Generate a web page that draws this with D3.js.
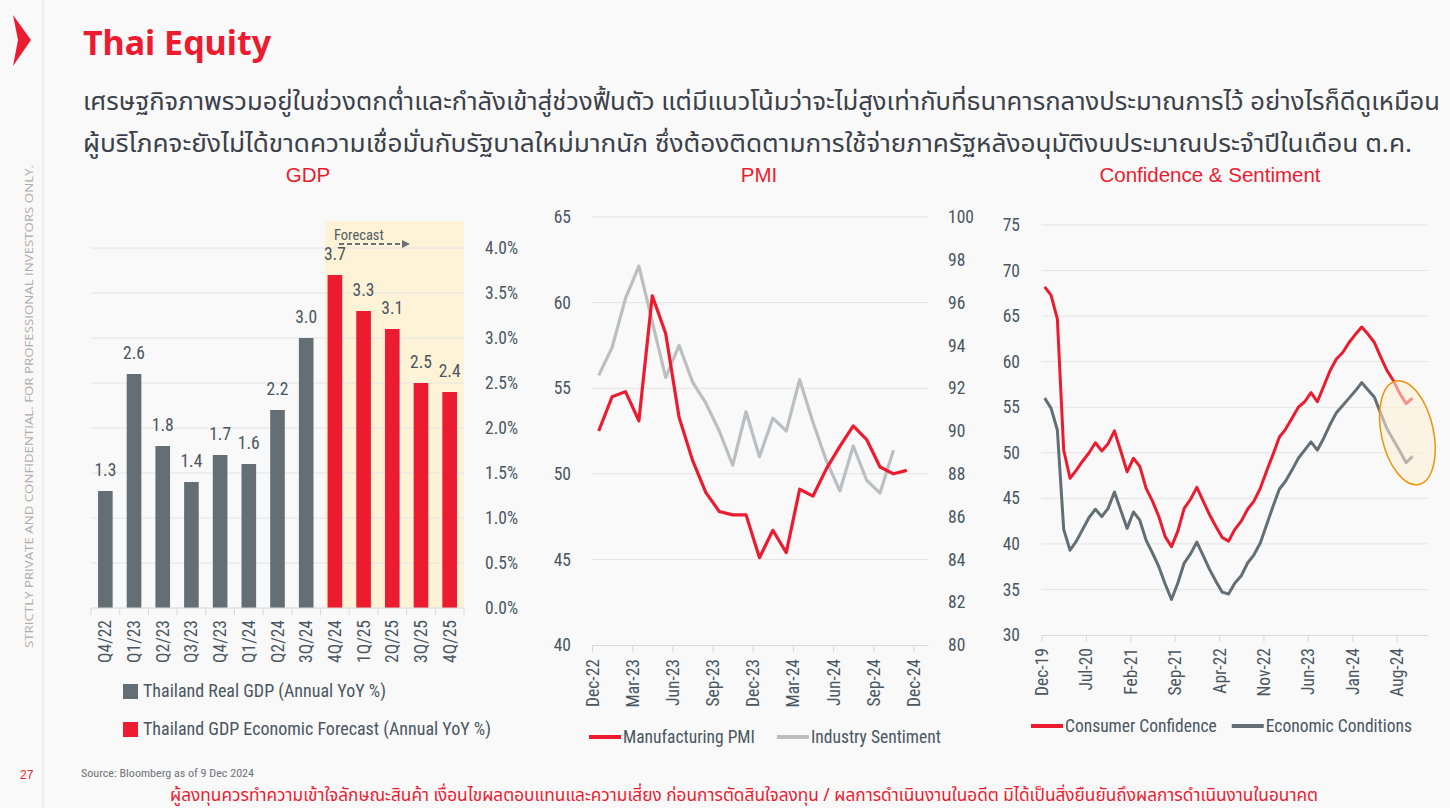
<!DOCTYPE html>
<html>
<head>
<meta charset="utf-8">
<script src="https://cdn.jsdelivr.net/npm/d3@7"></script>
<style>
  body { margin: 0; background: #f9f9f9; }
  svg { display: block; }
</style>
</head>
<body>
<svg id="chart" width="1450" height="808"></svg>
<script>
// ---- data ----
const gdpQuarters = ["Q4/22", "Q1/23", "Q2/23", "Q3/23", "Q4/23", "Q1/24", "Q2/24", "3Q/24", "4Q/24", "1Q/25", "2Q/25", "3Q/25", "4Q/25"];
const gdpValues = [1.3, 2.6, 1.8, 1.4, 1.7, 1.6, 2.2, 3.0, 3.7, 3.3, 3.1, 2.5, 2.4];
const forecastFrom = "4Q/24";

// monthly, first value = Dec-22
const pmiValues = [52.5, 54.5, 54.8, 53.1, 60.4, 58.2, 53.3, 50.8, 48.9, 47.8, 47.6, 47.6,
                   45.1, 46.7, 45.4, 49.1, 48.7, 50.3, 51.6, 52.8, 52.0, 50.4, 50.0, 50.2];
const sentimentValues = [92.6, 93.9, 96.2, 97.7, 95.1, 92.5, 94.0, 92.3, 91.3, 90.0, 88.4, 90.9,
                         88.8, 90.6, 90.0, 92.4, 90.4, 88.6, 87.2, 89.3, 87.7, 87.1, 89.1];
const pmiTicks = ["Dec-22", "Mar-23", "Jun-23", "Sep-23", "Dec-23", "Mar-24", "Jun-24", "Sep-24", "Dec-24"];

// monthly, first value = Dec-19
const confValues = [68.2, 67.3, 64.7, 50.3, 47.2, 48.1, 49.1, 50.0, 51.1, 50.2, 51.0, 52.4,
                    50.2, 47.9, 49.4, 48.5, 46.1, 44.7, 43.0, 40.8, 39.7, 41.4, 43.9, 44.9,
                    46.2, 44.7, 43.2, 41.9, 40.7, 40.3, 41.6, 42.5, 43.8, 44.7, 46.1, 48.0,
                    49.8, 51.7, 52.6, 53.8, 55.0, 55.6, 56.6, 55.6, 57.3, 59.0, 60.3, 61.0,
                    62.1, 63.0, 63.8, 63.0, 62.1, 60.5, 59.0, 57.9, 56.5, 55.4, 56.0];
const econValues = [56.0, 54.9, 52.5, 41.6, 39.3, 40.3, 41.6, 42.9, 43.8, 43.0, 43.9, 45.7,
                    43.7, 41.7, 43.5, 42.6, 40.4, 39.0, 37.5, 35.6, 33.9, 35.7, 37.9, 38.9,
                    40.2, 38.7, 37.2, 35.9, 34.7, 34.5, 35.7, 36.5, 37.9, 38.8, 40.1, 42.1,
                    44.1, 46.0, 46.9, 48.1, 49.4, 50.3, 51.2, 50.3, 51.6, 53.1, 54.4, 55.2,
                    56.0, 56.8, 57.7, 56.9, 56.1, 54.3, 52.6, 51.4, 50.2, 48.9, 49.6];
const confTicks = ["Dec-19", "Jul-20", "Feb-21", "Sep-21", "Apr-22", "Nov-22", "Jun-23", "Jan-24", "Aug-24"];

const RED = "#ed1b2f";
const SLATE = "#646f75";
const LIGHT = "#bcbebf";
const TXT = "#4b5661";
const GRID = "#e4e4e4";
const NARROW = "'Liberation Sans Narrow', 'Arial Narrow', 'Roboto Condensed', sans-serif";
const SANS = "'Liberation Sans', Arial, sans-serif";
const THAI = "'Noto Sans Thai', 'Noto Sans Thai UI', 'Noto Sans', sans-serif";
const FS = 17.5; // tick / legend size

const svg = d3.select("#chart");

// squeeze a text element to a given width
function fitWidth(sel, w) {
  const len = sel.node().getComputedTextLength();
  if (Math.abs(len - w) > 2) sel.attr("textLength", w).attr("lengthAdjust", "spacingAndGlyphs");
}

// ---- page frame ----
svg.append("rect").attr("width", 1450).attr("height", 808).attr("fill", "#f9f9f9");
svg.append("line").attr("x1", 43).attr("x2", 43).attr("y1", 0).attr("y2", 808)
  .attr("stroke", "#e2e2e2");
svg.append("polygon").attr("points", "13,15 31,40 13,66 18,40").attr("fill", RED);

svg.append("text").attr("x", 83).attr("y", 55)
  .attr("font-family", "'Noto Sans', 'Open Sans', sans-serif").attr("font-weight", 700)
  .attr("font-size", 34).attr("fill", RED).text("Thai Equity")
  .call(fitWidth, 187);

const intro = [
  "เศรษฐกิจภาพรวมอยู่ในช่วงตกต่ำและกำลังเข้าสู่ช่วงฟื้นตัว แต่มีแนวโน้มว่าจะไม่สูงเท่ากับที่ธนาคารกลางประมาณการไว้ อย่างไรก็ดีดูเหมือน",
  "ผู้บริโภคจะยังไม่ได้ขาดความเชื่อมั่นกับรัฐบาลใหม่มากนัก ซึ่งต้องติดตามการใช้จ่ายภาครัฐหลังอนุมัติงบประมาณประจำปีในเดือน ต.ค."
];
const introWidths = [1357, 1329];
intro.forEach((t, i) => {
  svg.append("text").attr("x", 83).attr("y", 110 + i * 42)
    .attr("font-family", THAI).attr("font-size", 24).attr("fill", "#3b4049")
    .text(t).call(fitWidth, introWidths[i]);
});

svg.append("text")
  .attr("transform", "translate(33,648) rotate(-90)")
  .attr("font-family", "'Open Sans', sans-serif").attr("font-size", 11.5)
  .attr("fill", "#adadad").text("STRICTLY PRIVATE AND CONFIDENTIAL. FOR PROFESSIONAL INVESTORS ONLY.")
  .call(fitWidth, 483);

svg.append("text").attr("x", 20).attr("y", 779).attr("font-family", SANS)
  .attr("font-size", 12).attr("fill", RED).text("27");
svg.append("text").attr("x", 81).attr("y", 777).attr("font-family", NARROW)
  .attr("font-size", 11).attr("fill", "#6f7378").text("Source: Bloomberg as of 9 Dec 2024")
  .call(fitWidth, 173);
svg.append("text").attr("x", 170).attr("y", 801).attr("font-family", THAI)
  .attr("font-size", 17.5).attr("fill", RED)
  .text("ผู้ลงทุนควรทำความเข้าใจลักษณะสินค้า เงื่อนไขผลตอบแทนและความเสี่ยง ก่อนการตัดสินใจลงทุน / ผลการดำเนินงานในอดีต มิได้เป็นสิ่งยืนยันถึงผลการดำเนินงานในอนาคต")
  .call(fitWidth, 1148);

function title(x, t) {
  svg.append("text").attr("x", x).attr("y", 182).attr("text-anchor", "middle")
    .attr("font-family", SANS).attr("font-size", 20.5)
    .attr("fill", RED).text(t);
}
title(308, "GDP");
title(759, "PMI");
title(1210, "Confidence & Sentiment");

// ---- GDP bars ----
const gx = d3.scaleBand().domain(gdpQuarters).range([91, 464])
  .paddingInner(0.49).paddingOuter(0.245);
const gy = d3.scaleLinear().domain([0, 4.3]).range([608, 221]);
const gdp = svg.append("g");

gdp.append("rect")
  .attr("x", gx(forecastFrom) - 2.5).attr("y", gy(4.3))
  .attr("width", gx.range()[1] - gx(forecastFrom) + 2.5).attr("height", gy(0) - gy(4.3))
  .attr("fill", "#fff3d7");

gdp.selectAll(".grid").data(d3.range(0.5, 4.01, 0.5)).join("line")
  .attr("x1", 91).attr("x2", 464).attr("y1", d => gy(d)).attr("y2", d => gy(d))
  .attr("stroke", GRID);

gdp.selectAll(".rl").data(d3.range(0, 4.01, 0.5)).join("text")
  .attr("x", 485).attr("y", d => gy(d)).attr("dy", "0.35em")
  .attr("font-family", NARROW).attr("font-size", FS).attr("fill", TXT)
  .text(d => d3.format(".1f")(d) + "%");

const isFc = q => gdpQuarters.indexOf(q) >= gdpQuarters.indexOf(forecastFrom);
gdp.selectAll(".bar").data(gdpQuarters).join("rect")
  .attr("x", d => gx(d)).attr("width", gx.bandwidth())
  .attr("y", (d, i) => gy(gdpValues[i])).attr("height", (d, i) => gy(0) - gy(gdpValues[i]))
  .attr("fill", d => isFc(d) ? RED : SLATE);

gdp.selectAll(".val").data(gdpQuarters).join("text")
  .attr("x", d => gx(d) + gx.bandwidth() / 2).attr("y", (d, i) => gy(gdpValues[i]) - 15)
  .attr("text-anchor", "middle").attr("font-family", NARROW).attr("font-size", FS)
  .attr("fill", TXT).text((d, i) => d3.format(".1f")(gdpValues[i]));

gdp.append("line").attr("x1", 91).attr("x2", 464).attr("y1", gy(0)).attr("y2", gy(0))
  .attr("stroke", "#d9d9d9");
gdp.selectAll(".tk").data(d3.range(gdpQuarters.length + 1)).join("line")
  .attr("x1", d => 91 + d * gx.step()).attr("x2", d => 91 + d * gx.step())
  .attr("y1", gy(0)).attr("y2", gy(0) + 7).attr("stroke", "#d9d9d9");
gdp.selectAll(".xl").data(gdpQuarters).join("text")
  .attr("transform", d => `translate(${gx(d) + gx.bandwidth() / 2 + 6},620) rotate(-90)`)
  .attr("text-anchor", "end").attr("font-family", NARROW).attr("font-size", FS)
  .attr("fill", TXT).text(d => d);

// forecast marker
gdp.append("text").attr("x", 334).attr("y", 240).attr("font-family", NARROW)
  .attr("font-size", 14.5).attr("fill", "#555c63").text("Forecast");
gdp.append("line").attr("x1", 339).attr("x2", 403).attr("y1", 244).attr("y2", 244)
  .attr("stroke", "#6b7378").attr("stroke-width", 2).attr("stroke-dasharray", "5,3");
gdp.append("polygon").attr("points", "402,240 410,244 402,248").attr("fill", "#6b7378");

const gdpLegend = [["Thailand Real GDP (Annual YoY %)", SLATE], ["Thailand GDP Economic Forecast (Annual YoY %)", RED]];
gdpLegend.forEach(([t, c], i) => {
  const y = 691 + i * 38;
  gdp.append("rect").attr("x", 123).attr("y", y - 7).attr("width", 15).attr("height", 15).attr("fill", c);
  gdp.append("text").attr("x", 143).attr("y", y).attr("dy", "0.35em")
    .attr("font-family", NARROW).attr("font-size", 18).attr("fill", TXT).text(t);
});

// ---- line chart helper ----
function timeAxis(g, x, yBase, ticks, step, labelTop) {
  const axis = d3.axisBottom(x).tickValues(ticks.map((d, i) => i * step))
    .tickFormat((d, i) => ticks[i]).tickSize(7).tickSizeOuter(0);
  const a = g.append("g").attr("transform", `translate(0,${yBase})`).call(axis);
  a.select(".domain").attr("stroke", "#d9d9d9");
  a.selectAll(".tick line").attr("stroke", "#d9d9d9");
  a.selectAll(".tick text")
    .attr("transform", `translate(6,${labelTop - yBase}) rotate(-90)`)
    .attr("x", 0).attr("y", 0).attr("dy", 0)
    .attr("text-anchor", "end").attr("font-family", NARROW).attr("font-size", FS).attr("fill", TXT);
}

// ---- PMI ----
const px = d3.scaleLinear().domain([0, 25.08]).range([592, 928]);
const pyL = d3.scaleLinear().domain([40, 65]).range([645, 217]);
const pyR = d3.scaleLinear().domain([80, 100]).range([645, 217]);
const pmi = svg.append("g");

pmi.selectAll(".grid").data(d3.range(45, 66, 5)).join("line")
  .attr("x1", 592).attr("x2", 928).attr("y1", d => pyL(d)).attr("y2", d => pyL(d))
  .attr("stroke", GRID);
pmi.selectAll(".ll").data(d3.range(40, 66, 5)).join("text")
  .attr("x", 571).attr("y", d => pyL(d)).attr("dy", "0.35em").attr("text-anchor", "end")
  .attr("font-family", NARROW).attr("font-size", FS).attr("fill", TXT).text(d => d);
pmi.selectAll(".rl").data(d3.range(80, 101, 2)).join("text")
  .attr("x", 948).attr("y", d => pyR(d)).attr("dy", "0.35em")
  .attr("font-family", NARROW).attr("font-size", FS).attr("fill", TXT).text(d => d);
timeAxis(pmi, px, 645, pmiTicks, 3, 659);

const pmiLine = (ys) => d3.line().x((d, i) => px(i + 0.5)).y(d => ys(d));
pmi.append("path").datum(sentimentValues).attr("d", pmiLine(pyR))
  .attr("fill", "none").attr("stroke", LIGHT).attr("stroke-width", 3.2).attr("stroke-linejoin", "round");
pmi.append("path").datum(pmiValues).attr("d", pmiLine(pyL))
  .attr("fill", "none").attr("stroke", RED).attr("stroke-width", 3.2).attr("stroke-linejoin", "round");

// ---- Confidence ----
const cx = d3.scaleLinear().domain([0, 60.9]).range([1041.5, 1427.7]);
const cy = d3.scaleLinear().domain([30, 75]).range([635, 225]);
const conf = svg.append("g");

conf.selectAll(".grid").data(d3.range(35, 76, 5)).join("line")
  .attr("x1", 1041.5).attr("x2", 1427.7).attr("y1", d => cy(d)).attr("y2", d => cy(d))
  .attr("stroke", GRID);
conf.selectAll(".ll").data(d3.range(30, 76, 5)).join("text")
  .attr("x", 1020).attr("y", d => cy(d)).attr("dy", "0.35em").attr("text-anchor", "end")
  .attr("font-family", NARROW).attr("font-size", FS).attr("fill", TXT).text(d => d);
timeAxis(conf, cx, 635, confTicks, 7, 648);

const confLine = d3.line().x((d, i) => cx(i + 0.5)).y(d => cy(d));
conf.append("path").datum(econValues).attr("d", confLine)
  .attr("fill", "none").attr("stroke", SLATE).attr("stroke-width", 3).attr("stroke-linejoin", "round");
conf.append("path").datum(confValues).attr("d", confLine)
  .attr("fill", "none").attr("stroke", RED).attr("stroke-width", 3).attr("stroke-linejoin", "round");

// highlight on the latest readings
const last = confValues.length - 1;
conf.append("ellipse")
  .attr("transform", `translate(${cx(last - 0.3)},${cy((confValues[last] + econValues[last]) / 2 - 0.6)}) rotate(-12.5)`)
  .attr("rx", 26).attr("ry", 53)
  .attr("fill", "#fdf1d6").attr("fill-opacity", 0.55)
  .attr("stroke", "#f0900c").attr("stroke-width", 1.5);

// ---- line legends ----
function lineLegend(x, y, items, gap) {
  let cur = x;
  items.forEach(([t, c]) => {
    svg.append("line").attr("x1", cur).attr("x2", cur + 32).attr("y1", y).attr("y2", y)
      .attr("stroke", c).attr("stroke-width", 4);
    const tx = svg.append("text").attr("x", cur + 34).attr("y", y).attr("dy", "0.35em")
      .attr("font-family", NARROW).attr("font-size", FS).attr("fill", TXT).text(t);
    cur += 34 + tx.node().getComputedTextLength() + gap;
  });
}
lineLegend(589, 737, [["Manufacturing PMI", RED], ["Industry Sentiment", LIGHT]], 22);
lineLegend(1031, 726, [["Consumer Confidence", RED], ["Economic Conditions", SLATE]], 15);
</script>
</body>
</html>
